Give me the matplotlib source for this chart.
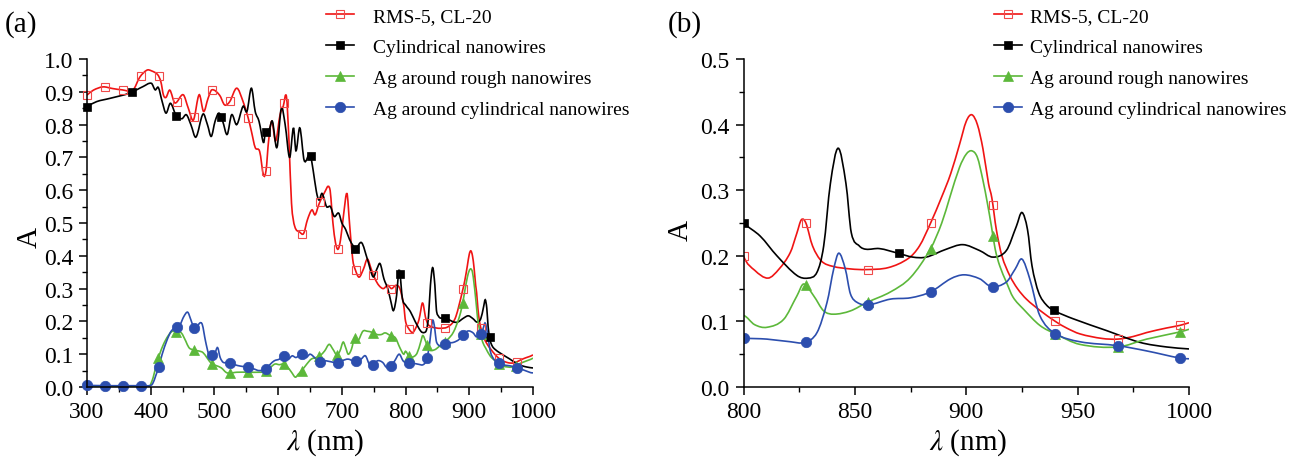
import numpy as np
import matplotlib
matplotlib.use("Agg")
import matplotlib.pyplot as plt
from matplotlib.path import Path
from matplotlib.patches import PathPatch
from matplotlib.lines import Line2D
from matplotlib.ticker import MultipleLocator, FormatStrFormatter

plt.rcParams['font.family'] = ['Liberation Serif', 'DejaVu Serif']
plt.rcParams['mathtext.fontset'] = 'stix'

# ---- absorbance spectra (wavelength in nm, absorbance A) ----
rms_x = [300, 310, 325, 340, 355, 372, 383, 394, 401, 411, 416, 420, 424, 430, 438,
         451, 459, 467, 476, 483, 490, 496, 508, 516, 524, 535, 545, 553, 558, 564,
         571, 577, 581, 585, 590, 596, 603, 608, 613, 617, 621, 626, 634, 640, 646,
         653, 658, 664, 672, 681, 686, 690, 694, 698, 703, 708, 712, 717, 721, 727,
         734, 740, 746, 752, 758, 765, 772, 778, 785, 791, 797, 800, 805, 811, 816,
         821, 824, 826, 828, 831, 835, 840, 848, 855, 865, 874, 879, 884, 889, 893,
         897, 900, 902.5, 905, 907.5, 910, 911.5, 913.5, 916, 919.5, 923, 927, 933,
         940, 945, 951, 961, 968, 975, 981, 990, 996, 1000]
rms_y = [0.89, 0.905, 0.915, 0.91, 0.906, 0.905, 0.945, 0.966, 0.964, 0.952, 0.93, 0.89,
         0.883, 0.905, 0.866, 0.891, 0.85, 0.814, 0.891, 0.84, 0.88, 0.906, 0.89, 0.86,
         0.87, 0.911, 0.87, 0.82, 0.78, 0.73, 0.718, 0.646, 0.66, 0.75, 0.81, 0.75, 0.83,
         0.856, 0.886, 0.75, 0.56, 0.49, 0.472, 0.468, 0.51, 0.54, 0.525, 0.557, 0.59,
         0.605, 0.50, 0.44, 0.42, 0.45, 0.53, 0.59, 0.50, 0.39, 0.358, 0.335, 0.36, 0.39,
         0.36, 0.33, 0.31, 0.30, 0.31, 0.30, 0.31, 0.30, 0.25, 0.20, 0.178, 0.166, 0.18,
         0.205, 0.235, 0.255, 0.25, 0.215, 0.192, 0.184, 0.18, 0.179, 0.182, 0.196, 0.215,
         0.25, 0.29, 0.325, 0.37, 0.405, 0.415, 0.40, 0.363, 0.31, 0.288, 0.24, 0.20,
         0.17, 0.15, 0.134, 0.117, 0.10, 0.09, 0.081, 0.074, 0.073, 0.077, 0.083, 0.09,
         0.094, 0.098]

cyl_x = [300, 315, 336, 367, 388, 401, 407, 412, 418, 424, 431, 440, 449, 456, 463,
         471, 482, 489, 495, 501, 507, 513, 520, 527, 535, 545, 551, 558, 564, 570,
         577, 580, 586, 591, 598, 605, 611, 618, 624, 628, 634, 641, 650, 655, 660,
         664, 669, 676, 682, 688, 695, 700, 706, 712, 718, 722, 731, 740, 749, 755,
         760, 766, 772, 777, 781, 786, 789, 791, 795, 800, 807.5, 815, 824, 829, 833,
         836, 839, 842.5, 846, 848.4, 852, 855, 861, 869.3, 876, 882, 891, 898.5, 906,
         912, 918, 922.5, 925, 927.5, 929.5, 932.5, 936, 939.7, 948, 963, 978, 990, 1000]
cyl_y = [0.855, 0.87, 0.88, 0.896, 0.916, 0.926, 0.906, 0.913, 0.87, 0.835, 0.865,
         0.827, 0.818, 0.83, 0.80, 0.762, 0.832, 0.80, 0.764, 0.81, 0.835, 0.81, 0.77,
         0.83, 0.80, 0.856, 0.84, 0.911, 0.84, 0.81, 0.745, 0.775, 0.785, 0.81, 0.73,
         0.85, 0.80, 0.70, 0.79, 0.72, 0.79, 0.69, 0.71, 0.66, 0.596, 0.57, 0.59, 0.55,
         0.55, 0.52, 0.53, 0.50, 0.48, 0.45, 0.43, 0.422, 0.44, 0.39, 0.336, 0.36, 0.376,
         0.33, 0.30, 0.26, 0.233, 0.28, 0.35, 0.35, 0.27, 0.25, 0.23, 0.20, 0.17, 0.166,
         0.175, 0.215, 0.31, 0.364, 0.31, 0.235, 0.215, 0.21, 0.211, 0.204, 0.198, 0.198,
         0.21, 0.217, 0.208, 0.198, 0.208, 0.245, 0.266, 0.24, 0.185, 0.144, 0.125, 0.116,
         0.104, 0.086, 0.068, 0.061, 0.058]

rough_x = [300, 390, 398, 404, 409, 414, 420, 427, 434, 441, 448, 455, 460, 467, 475,
           482, 488, 496, 503, 511, 518, 523, 535, 553, 570, 580, 588, 595, 602, 608,
           615, 621, 627, 632, 637, 645, 652, 660, 666, 673, 680, 686, 692, 697, 702,
           706, 710, 715, 720, 725, 733, 740, 747, 755, 762, 768, 776, 784, 791, 797,
           800, 805, 810.5, 818, 824, 827, 831.5, 836, 840.5, 848, 855.5, 866, 875, 884,
           889, 892.7, 897, 900, 902.5, 905, 907.5, 909.5, 911.3, 913, 915, 918, 921,
           925.6, 933, 940, 951, 968, 981, 996, 1000]
rough_y = [0.0, 0.0, 0.002, 0.03, 0.07, 0.10, 0.13, 0.155, 0.17, 0.168, 0.165, 0.14,
           0.12, 0.113, 0.11, 0.105, 0.09, 0.07, 0.065, 0.058, 0.045, 0.042, 0.045, 0.045,
           0.045, 0.047, 0.06, 0.07, 0.068, 0.07, 0.06, 0.045, 0.03, 0.04, 0.05, 0.07,
           0.085, 0.09, 0.096, 0.11, 0.13, 0.115, 0.098, 0.11, 0.137, 0.12, 0.10, 0.115,
           0.15, 0.14, 0.17, 0.17, 0.167, 0.16, 0.16, 0.165, 0.157, 0.15, 0.12, 0.10,
           0.109, 0.095, 0.091, 0.103, 0.139, 0.157, 0.139, 0.116, 0.111, 0.116, 0.129,
           0.145, 0.167, 0.211, 0.25, 0.29, 0.335, 0.355, 0.36, 0.35, 0.315, 0.28, 0.245,
           0.21, 0.185, 0.16, 0.137, 0.119, 0.094, 0.081, 0.065, 0.061, 0.073, 0.084, 0.088]

agcyl_x = [300, 330, 360, 384, 398, 403, 408, 412, 418, 425, 432, 440, 446, 452, 458,
           463, 468, 472, 477, 481, 486, 491, 495, 501, 505, 509, 514, 524, 532, 540,
           552, 562, 570, 580, 588, 594, 602, 609, 616, 622, 628, 637, 644, 650, 657,
           664, 672, 680, 692, 700, 710, 720, 730, 737, 743, 748, 756, 764, 770, 776,
           783, 790, 796, 800, 810.5, 821, 827.5, 833, 837.5, 840.5, 842.8, 845.7, 848,
           851, 855.8, 866, 875, 884, 893, 899, 906, 911.3, 918, 922, 925, 928.5, 933,
           939.7, 951, 968, 981, 996, 1000]
agcyl_y = [0.005, 0.004, 0.004, 0.004, 0.004, 0.01, 0.035, 0.058, 0.10, 0.14, 0.17,
           0.182, 0.19, 0.215, 0.228, 0.205, 0.18, 0.18, 0.195, 0.19, 0.14, 0.10, 0.095,
           0.105, 0.12, 0.09, 0.075, 0.075, 0.068, 0.064, 0.06, 0.055, 0.05, 0.055, 0.07,
           0.08, 0.085, 0.095, 0.085, 0.095, 0.09, 0.10, 0.09, 0.10, 0.09, 0.075, 0.08,
           0.078, 0.074, 0.08, 0.085, 0.078, 0.085, 0.095, 0.07, 0.065, 0.08, 0.075, 0.06,
           0.062, 0.08, 0.10, 0.08, 0.075, 0.073, 0.069, 0.068, 0.083, 0.129, 0.18, 0.204,
           0.18, 0.142, 0.129, 0.125, 0.134, 0.136, 0.145, 0.165, 0.171, 0.165, 0.153,
           0.16, 0.18, 0.195, 0.165, 0.109, 0.082, 0.069, 0.063, 0.055, 0.044, 0.043]

labels = ["RMS-5, CL-20", "Cylindrical nanowires",
          "Ag around rough nanowires", "Ag around cylindrical nanowires"]

# symbol positions along each curve (nm)
marks_a = [np.arange(300, 1001, 28.1), np.arange(300, 1001, 70.2),
           np.arange(412, 1001, 28.1), np.arange(300, 1001, 28.1)]
marks_b = [np.arange(800, 1001, 28.0), np.arange(800, 1001, 69.6),
           np.arange(828, 1001, 28.0), np.arange(800, 1001, 28.0)]

series = [(rms_x, rms_y), (cyl_x, cyl_y), (rough_x, rough_y), (agcyl_x, agcyl_y)]
colors = ['#f01414', '#000000', '#5cb83a', '#2c4eae']
styles = [dict(marker='s', mfc='none', mec='#f04a4a', ms=6.0, mew=0.8),
          dict(marker='s', mfc='#000000', mec='#000000', ms=6.0, mew=0.5),
          dict(marker='^', mfc='#5cb83a', mec='#5cb83a', ms=7.5, mew=0.5),
          dict(marker='o', mfc='#2c4eae', mec='#2c4eae', ms=7.5, mew=0.5)]


def slopes(x, y):
    m = np.empty(len(x))
    m[1:-1] = (y[2:] - y[:-2]) / (x[2:] - x[:-2])
    m[0] = (y[1] - y[0]) / (x[1] - x[0])
    m[-1] = (y[-1] - y[-2]) / (x[-1] - x[-2])
    return m


def spline_path(x, y):
    """Smooth connecting line through the points (cubic Bezier segments)."""
    x = np.asarray(x, float)
    y = np.asarray(y, float)
    m = slopes(x, y)
    verts = [(x[0], y[0])]
    codes = [Path.MOVETO]
    for i in range(len(x) - 1):
        h = x[i + 1] - x[i]
        verts += [(x[i] + h / 3, y[i] + m[i] * h / 3),
                  (x[i + 1] - h / 3, y[i + 1] - m[i + 1] * h / 3),
                  (x[i + 1], y[i + 1])]
        codes += [Path.CURVE4] * 3
    return Path(verts, codes)


def on_curve(x, y, xq):
    """Height of the connecting line at the symbol positions."""
    x = np.asarray(x, float)
    y = np.asarray(y, float)
    m = slopes(x, y)
    xq = np.asarray(xq, float)
    i = np.clip(np.searchsorted(x, xq) - 1, 0, len(x) - 2)
    h = x[i + 1] - x[i]
    t = (xq - x[i]) / h
    h00 = 2 * t**3 - 3 * t**2 + 1
    h10 = t**3 - 2 * t**2 + t
    h01 = -2 * t**3 + 3 * t**2
    h11 = t**3 - t**2
    return h00 * y[i] + h10 * h * m[i] + h01 * y[i + 1] + h11 * h * m[i + 1]


W, H = 1298, 460
fig = plt.figure(figsize=(W / 100, H / 100), dpi=100)
ax_a = fig.add_axes([87 / W, (H - 388) / H, (533 - 87) / W, 328 / H])
ax_b = fig.add_axes([743.5 / W, (H - 388) / H, (1189 - 743.5) / W, 328 / H])


def draw(ax, marks, clip):
    handles = []
    for (x, y), c, st, mx, lab in zip(series, colors, styles, marks, labels):
        ax.add_patch(PathPatch(spline_path(x, y), fill=False, edgecolor=c, lw=1.2))
        ax.plot(mx, on_curve(x, y, mx), ls='none', clip_on=clip, **st)
        handles.append(Line2D([], [], color=c, lw=1.2, label=lab, **st))
    return handles


def style(ax, xlim, ylim, xmaj, xmin, ymaj, ymin):
    ax.set_xlim(*xlim)
    ax.set_ylim(*ylim)
    ax.xaxis.set_major_locator(MultipleLocator(xmaj))
    ax.xaxis.set_minor_locator(MultipleLocator(xmin))
    ax.yaxis.set_major_locator(MultipleLocator(ymaj))
    ax.yaxis.set_minor_locator(MultipleLocator(ymin))
    ax.yaxis.set_major_formatter(FormatStrFormatter('%.1f'))
    for s in ('top', 'right'):
        ax.spines[s].set_visible(False)
    for s in ('left', 'bottom'):
        ax.spines[s].set_linewidth(1.1)
    ax.tick_params(which='major', direction='out', length=6, width=1.1,
                   labelsize=17, pad=4)
    ax.tick_params(which='minor', direction='out', length=3.5, width=1.0)
    ax.set_xlabel(r'$\lambda$ (nm)', fontsize=21)
    ax.set_ylabel('A', fontsize=21)


h_a = draw(ax_a, marks_a, False)
h_b = draw(ax_b, marks_b, True)
style(ax_a, (300, 1000), (0, 1.0), 100, 50, 0.1, 0.05)
style(ax_b, (800, 1000), (0, 0.5), 50, 25, 0.1, 0.05)

ax_a.xaxis.set_label_coords(0.535, -0.12)
ax_a.yaxis.set_label_coords(-0.10, 0.46)
ax_b.xaxis.set_label_coords(0.505, -0.12)
ax_b.yaxis.set_label_coords(-0.112, 0.48)

fig.text(5 / W, 1 - 25 / H, '(a)', fontsize=21, va='center', ha='left')
fig.text(668 / W, 1 - 25 / H, '(b)', fontsize=21, va='center', ha='left')

leg_kw = dict(loc='upper left', frameon=False, fontsize=14, numpoints=1,
              handlelength=1.45, labelspacing=0.69, borderpad=0, borderaxespad=0)
fig.legend(handles=h_a, bbox_to_anchor=(326 / W, 1 - 8 / H),
           handletextpad=0.95, **leg_kw)
fig.legend(handles=h_b, bbox_to_anchor=(994 / W, 1 - 8 / H),
           handletextpad=0.4, **leg_kw)

fig.savefig('out.png', dpi=100)
